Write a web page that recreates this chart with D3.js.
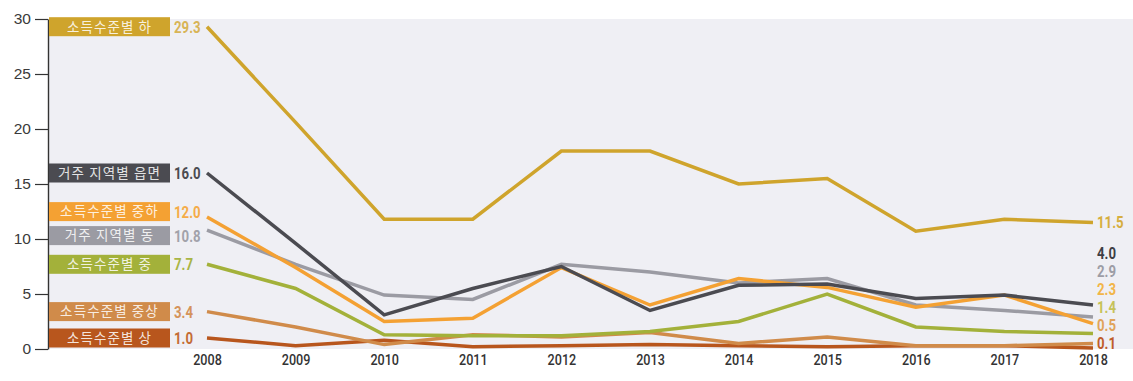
<!DOCTYPE html>
<html>
<head>
<meta charset="utf-8">
<script src="https://cdn.jsdelivr.net/npm/d3@7"></script>
<style>
  html, body { margin: 0; padding: 0; background: #fff; }
  svg { display: block; }
  .ko { font-family: "Noto Sans CJK KR", "Noto Sans", sans-serif; }
  .num { font-family: "Roboto", "Liberation Sans", sans-serif; }
</style>
</head>
<body>
<svg id="chart" width="1133" height="381"></svg>
<script>
// Years on the x axis
const years = [2008, 2009, 2010, 2011, 2012, 2013, 2014, 2015, 2016, 2017, 2018];

// Series names (Korean labels)
const seriesNames = ["소득수준별 하", "거주 지역별 읍면", "소득수준별 중하", "거주 지역별 동", "소득수준별 중", "소득수준별 중상", "소득수준별 상"];

// Values per series, 2008–2018
const lowIncome      = [29.3, 20.6, 11.8, 11.8, 18.0, 18.0, 15.0, 15.5, 10.7, 11.8, 11.5];
const ruralArea      = [16.0,  9.6,  3.1,  5.5,  7.5,  3.5,  5.8,  5.9,  4.6,  4.9,  4.0];
const lowerMidIncome = [12.0,  7.4,  2.5,  2.8,  7.4,  4.0,  6.4,  5.6,  3.8,  4.9,  2.3];
const urbanArea      = [10.8,  7.7,  4.9,  4.5,  7.7,  7.0,  6.0,  6.4,  4.0,  3.5,  2.9];
const midIncome      = [ 7.7,  5.5,  1.3,  1.2,  1.2,  1.6,  2.5,  5.0,  2.0,  1.6,  1.4];
const upperMidIncome = [ 3.4,  2.0,  0.4,  1.3,  1.1,  1.5,  0.5,  1.1,  0.3,  0.3,  0.5];
const highIncome     = [ 1.0,  0.3,  0.8,  0.2,  0.3,  0.4,  0.3,  0.2,  0.3,  0.3,  0.1];

// Y-axis tick values
const yTicks = [0, 5, 10, 15, 20, 25, 30];

// Colours: line / box, start value text, end value text
const lineColors  = ["#cfa42c", "#4b4b51", "#f4a133", "#9b9ba3", "#a3b13a", "#d08b4a", "#b8561d"];
const startColors = ["#d8b456", "#4b4b51", "#f5ac48", "#a2a2aa", "#a9b545", "#d5935a", "#c46c35"];
const endColors   = ["#d6ae3e", "#3e3e44", "#f2b548", "#9d9da6", "#c6c258", "#e0a35a", "#bf5d2a"];

// Order of the stacked final-value labels on the right
const endStackOrder = [1, 3, 2, 4, 5, 6];

const seriesValues = [lowIncome, ruralArea, lowerMidIncome, urbanArea, midIncome, upperMidIncome, highIncome];
const series = seriesNames.map((name, i) => ({
  name, values: seriesValues[i], line: lineColors[i], start: startColors[i], end: endColors[i], idx: i
}));

const svg = d3.select("#chart");
const plot = { left: 48, right: 1133, top: 19, bottom: 349 };

const x = d3.scaleLinear().domain([2008, 2018]).range([207, 1093]);
const y = d3.scaleLinear().domain([0, 30]).range([plot.bottom, plot.top]);
const fmt = d3.format(".1f");

// Plot background
svg.append("rect")
  .attr("x", plot.left).attr("y", plot.top)
  .attr("width", plot.right - plot.left).attr("height", plot.bottom - plot.top)
  .attr("fill", "#efeff4");

// Y axis
const yAxis = svg.append("g")
  .attr("transform", `translate(${plot.left},0)`)
  .call(d3.axisLeft(y).tickValues(yTicks).tickSize(13).tickSizeOuter(0).tickPadding(4));
yAxis.select(".domain").attr("stroke", "#333").attr("stroke-width", 1.4);
yAxis.selectAll(".tick line").attr("stroke", "#333").attr("stroke-width", 1.2);
yAxis.selectAll(".tick text")
  .attr("font-size", 15.5).attr("fill", "#3a3a3a")
  .style("font-family", "'Liberation Sans', 'Roboto', sans-serif");

// X axis labels (condensed look)
const xAxis = svg.append("g")
  .attr("transform", `translate(0,${plot.bottom})`)
  .call(d3.axisBottom(x).tickValues(years).tickFormat(d3.format("d")).tickSize(0).tickPadding(6));
xAxis.select(".domain").remove();
xAxis.selectAll(".tick text")
  .attr("font-size", 14).attr("fill", "#333")
  .attr("transform", "scale(0.9,1)")
  .style("font-family", "'Roboto', 'Liberation Sans', sans-serif")
  .style("font-weight", 500);

// Lines
const line = d3.line().x((d, i) => x(years[i])).y(d => y(d));
const drawOrder = [6, 5, 4, 3, 2, 1, 0];
svg.append("g").selectAll("path")
  .data(drawOrder.map(i => series[i]))
  .join("path")
  .attr("d", d => line(d.values))
  .attr("fill", "none")
  .attr("stroke", d => d.line)
  .attr("stroke-width", 3.5)
  .attr("stroke-linejoin", "miter")
  .attr("stroke-linecap", "butt");

// Left label positions: start at the first value, then push apart labels that collide
const boxH = 19, minGap = 24;
const pos = series.map(s => ({ s, cy: y(s.values[0]) })).sort((a, b) => a.cy - b.cy);
for (let iter = 0; iter < 20; iter++) {
  for (let k = 1; k < pos.length; k++) {
    const gap = pos[k].cy - pos[k - 1].cy;
    if (gap < minGap) {
      const shift = (minGap - gap) / 2;
      pos[k - 1].cy -= shift;
      pos[k].cy += shift;
    }
  }
}
pos.forEach(p => { p.cy = Math.min(p.cy, plot.bottom - boxH / 2 + 1); });

// Condensed numeric label helper
function numLabel(g, tx, ty, str, color) {
  g.append("text")
    .attr("class", "num")
    .attr("transform", `translate(${tx},${ty}) scale(0.8,1)`)
    .attr("dy", "0.36em")
    .attr("font-size", 16.5).attr("font-weight", "bold")
    .attr("fill", color)
    .text(str);
}

// Left labels: coloured name box and starting value
const labels = svg.append("g");
pos.forEach(({ s, cy }) => {
  labels.append("rect")
    .attr("x", plot.left + 1).attr("y", cy - boxH / 2)
    .attr("width", 121).attr("height", boxH)
    .attr("fill", s.line);
  labels.append("text")
    .attr("class", "ko")
    .attr("x", plot.left + 1 + 60.5).attr("y", cy)
    .attr("dy", "0.36em")
    .attr("text-anchor", "middle")
    .attr("font-size", 13.5)
    .attr("letter-spacing", 1.1)
    .attr("fill", "rgba(255,255,255,0.86)")
    .text(s.name);
  numLabel(labels, 174, cy, fmt(s.values[0]), s.start);
});

// Right labels: final values (top series at its value, the rest stacked)
const endG = svg.append("g");
numLabel(endG, 1097, y(lowIncome[lowIncome.length - 1]), fmt(lowIncome[lowIncome.length - 1]), series[0].end);
endStackOrder.forEach((i, k) => {
  const s = series[i];
  numLabel(endG, 1097, 253 + k * 18, fmt(s.values[s.values.length - 1]), s.end);
});
</script>
</body>
</html>
